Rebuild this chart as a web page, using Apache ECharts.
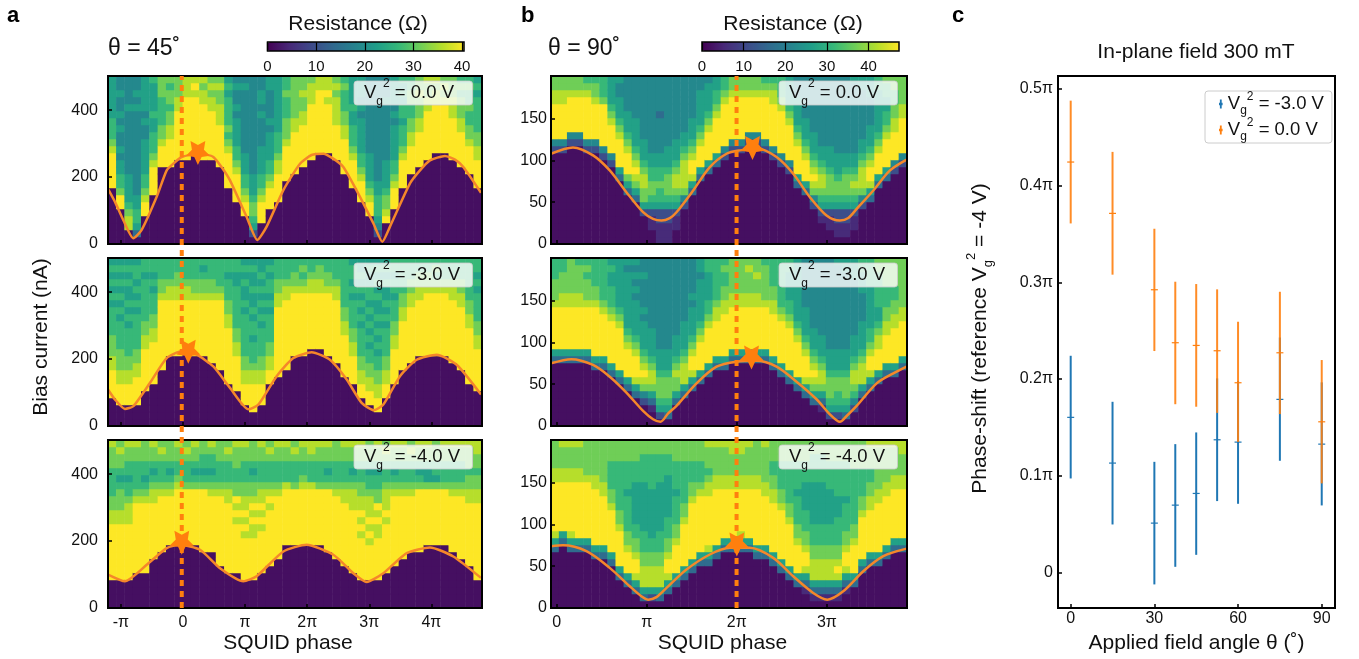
<!DOCTYPE html>
<html><head><meta charset="utf-8">
<style>html,body{margin:0;padding:0;background:#fff}#c{width:1359px;height:659px}</style>
<script src="https://cdn.jsdelivr.net/npm/echarts@6/dist/echarts.min.js"></script>
</head><body><div id="c"></div>
<script>
// Each string is one column of the map, bottom to top; each digit is a colour level 0-9.
const a1Cols=["00000000999998"+"7666555555","00000"+"99"+"7"+"66"+"55454454544544","00"+"88"+"76"+"555544444444454444","03566"+"5544444444444454544","0000"+"99"+"8"+"76"+"655555445455555","0000000"+"9999"+"87"+"66"+"655655556","00000000000"+"999"+"877"+"6666777","00000000000"+"9999"+"88"+"77"+"67767","000000000000"+"9999999"+"88"+"777","000000000000"+"999999999"+"888","0000000000000"+"9999999"+"9898","000000000000"+"99999999"+"8878","000000000000"+"9999999"+"88787","00000000000"+"999999"+"8887787","00000000"+"99999"+"87"+"6"+"76666565","000000"+"9999"+"87"+"66"+"5555454454","0000"+"99"+"8"+"76"+"655544444444454","0"+"25"+"677"+"65"+"5544444444444444","000"+"999"+"87"+"66"+"55554444545544","00000"+"999"+"87"+"66"+"555545444455","000000"+"9999"+"88"+"76"+"6655555555","000000000"+"99999"+"87"+"77"+"666766","0000000000"+"999999"+"88"+"777777","00000000000"+"999999"+"88"+"77877","000000000000"+"99999999"+"8887","0000000000000"+"99999999"+"988","0000000000000"+"9999999"+"8988","000000000000"+"99999"+"8888787","0000000000"+"99999"+"88"+"7766676","00000000"+"9999"+"87"+"66"+"65565555","000000"+"999"+"87"+"66"+"55555454555","0000"+"99"+"87"+"65"+"55544444444444","0"+"2"+"4"+"56"+"66"+"5"+"5444444444444444","000"+"98"+"77"+"65"+"555444444445444","00000"+"999"+"87"+"66"+"555554545555","00000000"+"9999"+"87"+"66"+"65665656","0000000000"+"9999"+"887"+"7667766","00000000000"+"99999"+"88"+"777877","000000000000"+"9999999"+"88"+"778","0000000000000"+"9999999"+"8878","0000000000000"+"9999999"+"8787","000000000000"+"999999"+"888777","00000000000"+"99999"+"88777676","0000000000"+"9999"+"87"+"76676676","00000000"+"9999"+"88"+"7"+"766666565"];
const a2Cols=["0000"+"9999"+"8"+"87"+"7766"+"665656565","000"+"999"+"88"+"777"+"666"+"6565656565","000"+"999"+"88"+"776"+"666"+"5656556565","000"+"9999"+"88"+"77"+"666"+"6656565665","00000"+"999999"+"88"+"77"+"666666566","000000"+"999999"+"88"+"77"+"66656566","00000000"+"9999999999"+"8"+"77"+"666","0000000000"+"99999999"+"88"+"7666","0000000000"+"99999999"+"88"+"7766","00000000000"+"9999999"+"88"+"7666","0000000000"+"99999999"+"8"+"77666","0000000000"+"99999999"+"8"+"77656","000000000"+"999999999"+"8"+"77666","00000000"+"9999999999"+"8"+"76666","000000"+"99999999"+"88"+"77"+"666566","00000"+"99999"+"88"+"77"+"666"+"6665566","000"+"999"+"88"+"77"+"66"+"666656556565","00"+"9999"+"88"+"76"+"66"+"566565565565","000"+"999"+"88"+"77"+"66"+"665656565655","000000"+"99"+"88"+"77"+"666656566565","0000000"+"9999999999"+"88"+"77"+"666","00000000"+"9999999999"+"88"+"7666","0000000000"+"999999999"+"8"+"7766","0000000000"+"999999999"+"8"+"7676","00000000000"+"99999999"+"88"+"766","00000000000"+"99999999"+"88"+"776","0000000000"+"999999999"+"8"+"7766","000000000"+"999999999"+"88"+"7666","0000000"+"999999"+"88"+"77"+"6666666","000000"+"9999"+"88"+"77"+"6666565665","0000"+"99"+"88"+"77"+"66"+"665656565655","000"+"99"+"88"+"77"+"66"+"5656565665565","00"+"99"+"88"+"77"+"66"+"56565655656565","0000"+"99"+"88"+"77"+"66"+"665656556565","000000"+"99999"+"88"+"77"+"666566566","00000000"+"9999999"+"88"+"77"+"66666","000000000"+"99999999"+"88"+"77"+"666","0000000000"+"99999999"+"88"+"7766","0000000000"+"999999999"+"8"+"7766","0000000000"+"999999999"+"8"+"7676","0000000000"+"999999999"+"8"+"7666","000000000"+"999999999"+"88"+"7666","00000000"+"999999999"+"88"+"77"+"666","000000"+"99999999"+"88"+"77"+"666666","00000"+"999999"+"88"+"77"+"666656566"];
const a3Cols=["0000"+"99999999"+"88"+"77"+"66"+"667778","0000"+"99999999"+"88"+"77"+"76"+"567787","0000"+"99999999"+"88"+"87"+"66"+"566778","00000"+"9999999999"+"8"+"7"+"6"+"666778","00000"+"9999999999"+"8"+"7"+"6"+"566777","0000000"+"99999999"+"8"+"8"+"7"+"656778","00000000"+"99999999"+"87"+"666787","000000000"+"9999999"+"87"+"656777","000000000"+"99999999"+"8"+"766778","000000000"+"99999999"+"7"+"666787","000000000"+"99999999"+"7"+"656778","00000000"+"999999999"+"7"+"656677","00000000"+"99999999"+"8"+"7"+"656678","000000"+"9999999999"+"87"+"666777","00000"+"9999999999"+"88"+"7"+"666787","00000"+"9999999"+"8989"+"77"+"667778","0000"+"999999"+"898988"+"77"+"666778","0000"+"999999"+"889898"+"77"+"656777","00000"+"99999"+"989898"+"87"+"666778","000000"+"9999999"+"989"+"87"+"666787","0000000"+"999999999"+"8"+"7"+"666778","000000000"+"99999999"+"8"+"666778","000000000"+"99999999"+"7"+"666787","000000000"+"99999999"+"8"+"766778","000000000"+"99999999"+"8"+"666788","000000000"+"99999999"+"7"+"666778","00000000"+"999999999"+"7"+"656778","0000000"+"999999999"+"8"+"7"+"666777","000000"+"999999999"+"88"+"7"+"666778","00000"+"99999999"+"98"+"88"+"7"+"656778","0000"+"99999"+"989898"+"87"+"7"+"666778","0000"+"99999"+"898988"+"87"+"6"+"656777","0000"+"99999"+"988989"+"77"+"6"+"656778","00000"+"999999"+"9898"+"88"+"7"+"666787","000000"+"9999999999"+"87"+"656778","0000000"+"999999999"+"8"+"7"+"666778","00000000"+"99999999"+"8"+"7"+"666787","00000000"+"999999999"+"7"+"656778","000000000"+"99999999"+"7"+"556778","000000000"+"99999999"+"7"+"566777","000000000"+"99999999"+"7"+"666778","00000000"+"99999999"+"87"+"666778","0000000"+"999999999"+"8"+"7"+"666778","000000"+"999999999"+"88"+"7"+"767778","0000"+"99999999999"+"88"+"7"+"767788"];
const b1Cols=["0000000000000"+"24"+"99999"+"88"+"77","0000000000000"+"24"+"99999"+"88"+"77","00000000000000"+"24"+"99999"+"8"+"77","00000000000000"+"24"+"99999"+"8"+"77","0000000000000"+"24"+"999999"+"8"+"76","0000000000000"+"24"+"99999"+"8"+"776","000000000000"+"24"+"999999"+"7"+"666","00000000000"+"24"+"9999"+"87"+"65555","000000000"+"35"+"9999"+"87"+"65"+"55445","0000000"+"35"+"7"+"999"+"87"+"65"+"5544444","000000"+"35"+"78"+"9"+"87"+"65"+"555444444","0000"+"25"+"778"+"87"+"65"+"55444444444","00112"+"5677"+"665"+"544444444444","11122"+"5667"+"665"+"544444344444","11122"+"5677"+"765"+"554444444444","00112"+"567"+"88"+"765"+"55444444444","00000"+"24"+"788"+"88"+"76"+"5544444444","0000000"+"35"+"899"+"87"+"65"+"55444444","000000000"+"35"+"999"+"87"+"65"+"555544","0000000000"+"35"+"9999"+"87"+"655554","00000000000"+"35"+"99999"+"87"+"6655","000000000000"+"24"+"999999"+"87"+"66","0000000000000"+"24"+"999999"+"87"+"7","0000000000000"+"24"+"999999"+"87"+"7","00000000000000"+"24"+"99999"+"8"+"77","00000000000000"+"24"+"99999"+"8"+"77","0000000000000"+"24"+"999999"+"8"+"76","000000000000"+"24"+"999999"+"88"+"76","00000000000"+"24"+"999999"+"8"+"7"+"666","0000000000"+"24"+"99999"+"87"+"65555","00000000"+"35"+"9999"+"87"+"65"+"555444","0000000"+"35"+"999"+"87"+"65"+"55444444","00000"+"24"+"78"+"9"+"87"+"65"+"5544444444","000"+"12"+"56"+"78"+"87"+"65"+"54444444444","00"+"112"+"567"+"77"+"65"+"554444444444","0"+"1122"+"5677"+"65"+"5544444444444","0"+"1122"+"5677"+"76"+"5544444444444","00"+"112"+"567"+"87"+"65"+"544444444445","00000"+"24"+"78"+"88"+"76"+"55444444455","000000"+"35"+"899"+"87"+"65"+"554444555","00000000"+"35"+"999"+"87"+"65"+"5555566","000000000"+"35"+"9999"+"87"+"66"+"55667","0000000000"+"24"+"9999"+"88"+"77"+"6677","00000000000"+"24"+"99999"+"88"+"7777"];
const b2Cols=["000000000"+"35"+"999999"+"87"+"77666","000000000"+"35"+"999999"+"88"+"77766","000000000"+"35"+"999999"+"88"+"77777","000000000"+"35"+"999999"+"88"+"77776","000000000"+"35"+"999999"+"87"+"77676","00000000"+"35"+"9999999"+"87"+"76666","00000000"+"35"+"999999"+"87"+"666666","0000000"+"35"+"999999"+"87"+"6665565","000000"+"35"+"999999"+"87"+"65555555","00000"+"35"+"9999"+"87"+"65"+"555555545","0000"+"35"+"8999"+"87"+"65"+"5555454545","000"+"24"+"789"+"87"+"65"+"555454444544","00"+"13"+"57"+"88"+"76"+"55"+"554444444444","0"+"2"+"5"+"67"+"77"+"65"+"5"+"54444444444444","0"+"3"+"56"+"77"+"76"+"55"+"54444444444444","000"+"35"+"77"+"87"+"65"+"5544444444444","0000"+"35"+"88"+"87"+"65"+"555444444444","00000"+"35"+"899"+"87"+"65"+"5554544444","000000"+"35"+"9999"+"87"+"65"+"55555455","0000000"+"35"+"99999"+"87"+"66"+"555566","00000000"+"35"+"99999"+"88"+"76"+"66666","00000000"+"35"+"999999"+"88"+"77"+"6676","000000000"+"35"+"999999"+"88"+"77777","000000000"+"35"+"999999"+"88"+"77777","000000000"+"35"+"999999"+"88"+"77787","000000000"+"35"+"999999"+"88"+"77877","000000000"+"35"+"999999"+"87"+"77776","00000000"+"35"+"999999"+"88"+"776666","0000000"+"35"+"999999"+"87"+"6666666","000000"+"35"+"999999"+"87"+"66"+"555566","00000"+"35"+"99999"+"87"+"65"+"55555555","0000"+"35"+"8999"+"87"+"65"+"5554444444","000"+"35"+"789"+"87"+"65"+"554444444444","00"+"13"+"57"+"88"+"76"+"55"+"544444444444","0"+"2"+"56"+"77"+"76"+"55"+"54444444444444","0"+"2"+"56"+"67"+"76"+"55"+"54444444444445","0"+"3"+"56"+"77"+"76"+"55"+"54444444444455","00"+"24"+"67"+"88"+"76"+"55"+"544444444555","0000"+"35"+"88"+"87"+"65"+"555444455566","00000"+"35"+"899"+"87"+"66"+"5555556666","000000"+"35"+"999"+"88"+"76"+"556666677","0000000"+"35"+"9999"+"88"+"77"+"6667777","0000000"+"35"+"99999"+"88"+"77"+"667777","00000000"+"35"+"99999"+"88"+"77"+"77777"];
const b3Cols=["00000000"+"358"+"9999999"+"8"+"8"+"7777","000000000"+"35"+"9999999"+"88"+"7778","00000000"+"358"+"9999999"+"88"+"7778","00000000"+"35"+"99999999"+"88"+"7778","00000000"+"35"+"99999999"+"87"+"7777","0000000"+"35"+"99999999"+"88"+"77777","0000000"+"35"+"9999999"+"88"+"777777","000000"+"35"+"999999"+"87"+"76"+"666777","0000"+"35"+"99999"+"87"+"76"+"666666777","000"+"35"+"999"+"87"+"76"+"666656666777","00"+"35"+"899"+"87"+"76"+"6555555666777","0"+"3"+"5"+"88"+"87"+"76"+"665555555666677","0"+"2"+"5"+"88"+"87"+"76"+"655555556666677","0"+"3"+"5"+"88"+"87"+"76"+"665555555666677","00"+"35"+"899"+"87"+"76"+"6655555566677","000"+"35"+"9999"+"87"+"76"+"66656666777","0000"+"35"+"999999"+"87"+"76"+"66666777","00000"+"35"+"99999999"+"87"+"7"+"666777","000000"+"35"+"99999999"+"87"+"666777","000000"+"358"+"9999999"+"88"+"767778","0000000"+"35"+"99999999"+"88"+"77778","00000000"+"35"+"9999999"+"88"+"77778","00000000"+"35"+"9999999"+"88"+"77788","00000000"+"358"+"999999"+"88"+"77788","00000000"+"35"+"9999999"+"88"+"77778","0000000"+"35"+"99999999"+"88"+"77777","0000000"+"35"+"9999999"+"88"+"777778","000000"+"35"+"9999999"+"88"+"77"+"66777","00000"+"35"+"9999999"+"87"+"76"+"666777","0000"+"35"+"999999"+"87"+"76"+"66666777","000"+"35"+"9999"+"87"+"76"+"66656666777","00"+"13"+"5"+"899"+"87"+"76"+"665555666777","0"+"13"+"5"+"88"+"87"+"76"+"66555555666677","0"+"13"+"5"+"88"+"87"+"76"+"66555555666677","0"+"13"+"5"+"88"+"87"+"76"+"66555556666777","0"+"13"+"5"+"89"+"87"+"76"+"66655566666777","00"+"13"+"5"+"899"+"87"+"76"+"666566666777","000"+"35"+"9999"+"87"+"76"+"66666667777","00000"+"35"+"999999"+"87"+"76"+"6667777","000000"+"35"+"999999"+"88"+"77"+"667778","000000"+"35"+"9999999"+"88"+"77"+"77778","0000000"+"35"+"9999999"+"88"+"777778","00000000"+"35"+"9999999"+"88"+"77778","00000000"+"35"+"9999999"+"88"+"77788"];

// Fitted curves: [phase in units of pi, current in nA]
const a1Curve=[[-1.208,165],[-1.095,126],[-.961,71],[-.8,17],[-.666,42],[-.424,141],[-.263,220],[-.156,240],[-.021,260],[.247,270],[.38,267],[.488,260],[.62,230],[.757,190],[1.025,81],[1.197,12],[1.347,52],[1.616,161],[1.884,240],[2.07,266],[2.26,270],[2.42,255],[2.582,230],[2.85,141],[3.065,62],[3.21,7],[3.333,52],[3.655,181],[3.816,220],[3.977,250],[4.219,263],[4.38,252],[4.514,230],[4.799,153]];
const a2Curve=[[-1.208,109],[-1.095,79],[-.934,51],[-.8,59],[-.531,129],[-.263,203],[-.021,223],[.22,213],[.488,178],[.757,114],[1.052,50],[1.213,64],[1.508,149],[1.777,203],[2.072,220],[2.367,198],[2.636,139],[2.877,69],[3.076,47],[3.226,64],[3.494,149],[3.763,198],[4.085,213],[4.407,183],[4.799,94]];
const a3Curve=[[-1.208,100],[-.934,80],[-.585,129],[-.263,179],[-.048,189],[.274,174],[.596,119],[.972,80],[1.186,95],[1.616,169],[1.991,189],[2.421,159],[2.743,104],[2.958,78],[3.226,104],[3.602,164],[3.977,181],[4.353,154],[4.799,90]];
const b1Curve=[[-.063,108],[.181,115.6],[.404,106],[.589,88],[.774,62],[.959,38],[1.07,30],[1.163,28],[1.256,31],[1.33,38],[1.515,64],[1.7,92],[1.885,108],[2.033,112],[2.237,114],[2.441,104],[2.626,84],[2.811,56],[2.996,34],[3.144,28],[3.237,31],[3.33,42],[3.515,64],[3.7,88],[3.885,101]];
const b2Curve=[[-.063,75],[.163,80],[.404,73],[.589,59],[.774,40],[.959,18],[1.07,8],[1.152,5],[1.237,15],[1.33,24],[1.552,51],[1.774,71],[1.996,77],[2.219,78],[2.441,71],[2.663,53],[2.885,32],[3.033,14],[3.144,5],[3.219,12],[3.33,24],[3.552,51],[3.737,63],[3.885,71]];
const b3Curve=[[-.063,74],[.07,75],[.33,68],[.589,48],[.811,26],[.94,14],[1.015,10],[1.107,13],[1.219,24],[1.441,46],[1.7,64],[1.922,72],[2.144,72],[2.404,60],[2.626,38],[2.848,18],[3.004,10],[3.181,20],[3.404,44],[3.626,62],[3.885,71]];
const aStars=[[.24,272],[.085,222],[-.02,195]];
const bStars=[[2.174,115],[2.163,82],[2.0,76]];
const aLinePhase=-.02, bLinePhase=1.997;

const aPhaseTicks=[-1,0,1,2,3,4], aPhaseLabels=['-π','0','π','2π','3π','4π'];
const bPhaseTicks=[0,1,2,3], bPhaseLabels=['0','π','2π','3π'];
const aCurrentTicks=[0,200,400], bCurrentTicks=[0,50,100,150];
const gateLabels=['0.0','-3.0','-4.0'];

const thetas=[0,15,30,37.5,45,52.5,60,75,90];
const blueMid=[.1604,.1131,.051,.0696,.0817,.1372,.1348,.179,.1327];
const blueLow=[.0972,.0496,-.0124,.0058,.0182,.0738,.071,.1155,.0693];
const blueHigh=[.2241,.1765,.1144,.1327,.1448,.2007,.198,.243,.1966];
const orangeMid=[.4245,.3714,.2924,.2376,.2348,.2293,.1962,.2272,.1558];
const orangeLow=[.361,.308,.229,.174,.1714,.165,.135,.1638,.0921];
const orangeHigh=[.488,.435,.3555,.3007,.2983,.2928,.2593,.2903,.2197];
const cThetaTicks=[0,30,60,90];
const cPhaseTicks=[0,.1,.2,.3,.4,.5];
const barTicksA=[0,10,20,30,40], barTicksB=[0,10,20,30,40];
const levelFractions=[.04,.12,.24,.35,.47,.57,.67,.78,.89,1];

const VIRIDIS=['#440154','#482878','#3e4989','#31688e','#26828e','#1f9e89','#35b779','#6ece58','#b5de2b','#fde725'];
const FONT='"Liberation Sans",Arial,sans-serif';
const ORANGE='#ff7f0e', BLUE='#1f77b4', INK='#111';
const A_MAX=40.4, B_MAX=47.3;
const ax={left:108,width:374,xmin:-1.208,xmax:4.815,ymax:502,vmax:A_MAX,ticksX:aPhaseTicks,labelsX:aPhaseLabels,ticksY:aCurrentTicks,yMargin:10,namePad:14};
const bx={left:551,width:356,xmin:-.063,xmax:3.889,ymax:201,vmax:B_MAX,ticksX:bPhaseTicks,labelsX:bPhaseLabels,ticksY:bCurrentTicks,yMargin:4,namePad:13};
const tops=[76,258,440], H=168;

const grid=[],xAxis=[],yAxis=[],series=[],graphic=[];
const hmA=[],hmB=[];
function gateText(g){return `{v|V}{s|g}{u|2}{t| = ${g} V}`;}
function richFor(lh){return {v:{fontSize:18.5,fontFamily:FONT,lineHeight:lh,fill:INK,color:INK},
  s:{fontSize:12,fontFamily:FONT,verticalAlign:'bottom',fill:INK,color:INK,lineHeight:lh},
  u:{fontSize:12,fontFamily:FONT,verticalAlign:'top',fill:INK,color:INK,lineHeight:lh},
  t:{fontSize:18.5,fontFamily:FONT,fill:INK,color:INK,lineHeight:lh}};}
function cats(n){const r=[];for(let i=0;i<n;i++)r.push(String(i));return r;}
function addPanel(cfg,row,cols,curve,star,boxLeft){
  const gi=grid.length, top=tops[row], last=row===2;
  grid.push({left:cfg.left,top,width:cfg.width,height:H,outerBoundsMode:'none'});
  const xc=xAxis.length;
  xAxis.push({type:'category',gridIndex:gi,show:false,data:cats(cols.length)});
  xAxis.push({type:'value',gridIndex:gi,min:cfg.xmin,max:cfg.xmax,position:'bottom',z:6,splitLine:{show:false},
    axisLine:{show:false,onZero:false},
    axisTick:{show:true,inside:true,length:4,customValues:cfg.ticksX,lineStyle:{color:'#000',width:1.5}},
    axisLabel:{show:last,customValues:cfg.ticksX,margin:7,fontSize:16,fontFamily:FONT,color:INK,
      formatter:v=>cfg.labelsX[cfg.ticksX.indexOf(v)]},
    name:last?'SQUID phase':'',nameLocation:'middle',nameGap:25,nameMoveOverlap:false,nameTextStyle:{fontSize:21,fontFamily:FONT,color:INK,padding:[0,cfg.namePad,0,0]}});
  const yc=yAxis.length;
  yAxis.push({type:'category',gridIndex:gi,show:false,data:cats(24)});
  yAxis.push({type:'value',gridIndex:gi,position:'left',min:0,max:cfg.ymax,z:6,splitLine:{show:false},axisLine:{show:false,onZero:false},
    axisTick:{show:true,inside:true,length:4,customValues:cfg.ticksY,lineStyle:{color:'#000',width:1.5}},
    axisLabel:{customValues:cfg.ticksY,margin:cfg.yMargin,fontSize:16,fontFamily:FONT,color:INK},
    name:(cfg===ax&&row===1)?'Bias current (nA)':'',nameLocation:'middle',nameGap:56,nameTextStyle:{fontSize:21,fontFamily:FONT,color:INK,padding:[0,0,0,10]}});
  const data=[];
  cols.forEach((s,x)=>{for(let y=0;y<s.length;y++){data.push([x,y,levelFractions[+s[y]]*cfg.vmax]);}});
  (cfg===ax?hmA:hmB).push(series.length);
  series.push({type:'heatmap',xAxisIndex:xc,yAxisIndex:yc,data,silent:true,progressive:0,animation:false,emphasis:{disabled:true},z:2});
  series.push({type:'line',xAxisIndex:xc+1,yAxisIndex:yc+1,data:curve,showSymbol:false,smooth:cfg===bx?0.3:0.2,silent:true,animation:false,z:3,
    lineStyle:{color:'#f5872a',width:2.5,join:'round'}});
  graphic.push({type:'rect',z:5,silent:true,shape:{x:cfg.left,y:top,width:cfg.width,height:H},style:{fill:'none',stroke:'#000',lineWidth:2}});
  graphic.push({type:'rect',z:8,silent:true,shape:{x:boxLeft,y:top+5,width:118.5,height:24,r:3},style:{fill:'rgba(255,255,255,0.8)',stroke:'rgba(204,204,204,0.8)',lineWidth:1}});
  graphic.push({type:'text',z:9,silent:true,x:boxLeft+10,y:top+1.5,style:{text:gateText(gateLabels[row]),rich:richFor(30),fontFamily:FONT}});
  return {xc,yc,star};
}
const aCols=[a1Cols,a2Cols,a3Cols],bCols=[b1Cols,b2Cols,b3Cols];
const aCurves=[a1Curve,a2Curve,a3Curve],bCurves=[b1Curve,b2Curve,b3Curve];
const panels=[];
for(let r=0;r<3;r++)panels.push(addPanel(ax,r,aCols[r],aCurves[r],aStars[r],354));
for(let r=0;r<3;r++)panels.push(addPanel(bx,r,bCols[r],bCurves[r],bStars[r],779));

// dotted guide lines run through all three panels of a column
[[ax,aLinePhase],[bx,bLinePhase]].forEach(([cfg,ph])=>{
  const gi=grid.length;
  grid.push({left:cfg.left,top:tops[0],width:cfg.width,height:532,outerBoundsMode:'none'});
  const xi=xAxis.length;xAxis.push({type:'value',gridIndex:gi,show:false,min:cfg.xmin,max:cfg.xmax});
  const yi=yAxis.length;yAxis.push({type:'value',gridIndex:gi,show:false,min:0,max:1});
  series.push({type:'line',xAxisIndex:xi,yAxisIndex:yi,data:[[ph,0],[ph,1]],showSymbol:false,silent:true,animation:false,z:6,clip:false,
    lineStyle:{color:ORANGE,width:4,type:[6,5],cap:'butt'}});
});
const STAR='path://M50 100L35.3 70.2L2.4 65.5L26.2 42.3L20.6 9.5L50 25L79.4 9.5L73.8 42.3L97.6 65.5L64.7 70.2Z';
panels.forEach(p=>{
  series.push({type:'scatter',xAxisIndex:p.xc+1,yAxisIndex:p.yc+1,data:[p.star],symbol:STAR,symbolSize:24,silent:true,animation:false,z:7,itemStyle:{color:ORANGE,opacity:1}});
});

// colour bars
function addBar(left,width,max,ticks){
  const gi=grid.length;
  grid.push({left,top:42,width,height:9,outerBoundsMode:'none'});
  xAxis.push({type:'value',gridIndex:gi,min:0,max,z:6,splitLine:{show:false},axisLine:{show:false,onZero:false},
    axisTick:{show:true,inside:true,length:9,customValues:ticks,lineStyle:{color:'#000',width:1.2}},
    axisLabel:{customValues:ticks,margin:8,fontSize:15,fontFamily:FONT,color:INK}});
  yAxis.push({type:'value',gridIndex:gi,show:false,min:0,max:1});
  graphic.push({type:'rect',z:5,silent:true,shape:{x:left,y:42,width,height:9},style:{fill:'none',stroke:'#000',lineWidth:1.5}});
}
addBar(267.5,196.5,A_MAX,barTicksA);
addBar(702,197,B_MAX,barTicksB);

// panel c
const gc=grid.length;
grid.push({left:1058,top:76,width:277,height:532,outerBoundsMode:'none'});
xAxis.push({type:'value',gridIndex:gc,min:-4.55,max:94.76,z:6,splitLine:{show:false},axisLine:{show:false,onZero:false},
  axisTick:{inside:true,length:4,customValues:cThetaTicks,lineStyle:{color:'#000',width:1.5}},
  axisLabel:{customValues:cThetaTicks,margin:3,fontSize:16,fontFamily:FONT,color:INK},
  name:'Applied field angle θ (˚)',nameLocation:'middle',nameGap:25,nameMoveOverlap:false,nameTextStyle:{fontSize:21,fontFamily:FONT,color:INK}});
yAxis.push({type:'value',gridIndex:gc,min:-.0368,max:.5135,z:6,splitLine:{show:false},axisLine:{show:false,onZero:false},
  axisTick:{inside:true,length:4,customValues:cPhaseTicks,lineStyle:{color:'#000',width:1.5}},
  axisLabel:{customValues:cPhaseTicks,margin:5,fontSize:16,fontFamily:FONT,color:INK,formatter:v=>v===0?'0':v+'π'},
  name:'{t|Phase-shift (reference V}{s|g}{u|2}{t| = -4 V)}',nameLocation:'middle',nameGap:63,
  nameTextStyle:{fontFamily:FONT,padding:[0,0,0,7],rich:{t:{fontSize:21,fontFamily:FONT,color:INK,lineHeight:30},s:{fontSize:13,fontFamily:FONT,color:INK,verticalAlign:'bottom',lineHeight:30},u:{fontSize:13,fontFamily:FONT,color:INK,verticalAlign:'top',lineHeight:30}}}});
graphic.push({type:'rect',z:5,silent:true,shape:{x:1058,y:76,width:277,height:532},style:{fill:'none',stroke:'#000',lineWidth:2}});
function errSeries(name,color,mid,low,high,opacity,z){
  return {type:'custom',name,xAxisIndex:xAxis.length-1,yAxisIndex:yAxis.length-1,silent:true,animation:false,z,
    itemStyle:{color},
    encode:{x:0,y:1},
    data:thetas.map((t,i)=>[t,mid[i],low[i],high[i]]),
    renderItem(p,api){
      const x=api.value(0),m=api.coord([x,api.value(1)]),l=api.coord([x,api.value(2)]),h=api.coord([x,api.value(3)]);
      return {type:'group',children:[
        {type:'line',shape:{x1:l[0],y1:l[1],x2:h[0],y2:h[1]},style:{stroke:color,lineWidth:2,opacity}},
        {type:'line',shape:{x1:m[0]-3.5,y1:m[1],x2:m[0]+3.5,y2:m[1]},style:{stroke:color,lineWidth:1.2,opacity:1}}
      ]};
    }};
}
series.push(errSeries('-3.0',BLUE,blueMid,blueLow,blueHigh,1,3));
series.push(errSeries('0.0',ORANGE,orangeMid,orangeLow,orangeHigh,.9,4));
const ICON='path://M4 0H6V3.5H7V6.5H6V10H4V6.5H3V3.5H4Z';

const tx=(text,x,y,size,extra)=>({type:'text',silent:true,x,y,style:Object.assign({text,fontSize:size,fontFamily:FONT,fill:INK,textVerticalAlign:'middle'},extra||{})});
graphic.push(tx('a',7,16,22,{fontWeight:'bold',fill:'#000'}));
graphic.push(tx('b',521,16,22,{fontWeight:'bold',fill:'#000'}));
graphic.push(tx('c',952,16,22,{fontWeight:'bold',fill:'#000'}));
graphic.push(tx('θ = 45˚',108,49,23));
graphic.push(tx('θ = 90˚',548,49,23));
graphic.push(tx('Resistance (Ω)',358,24,21,{textAlign:'center'}));
graphic.push(tx('Resistance (Ω)',793,24,21,{textAlign:'center'}));
graphic.push(tx('In-plane field 300 mT',1196,52,21,{textAlign:'center'}));

const chart=echarts.init(document.getElementById('c'),null,{renderer:'canvas'});
const vm=(left,max,idx)=>({type:'continuous',show:true,seriesIndex:idx,dimension:2,min:0,max,orient:'horizontal',left,top:42,itemWidth:9,itemHeight:max===A_MAX?196.5:197,padding:0,text:null,showLabel:false,calculable:false,hoverLink:false,realtime:false,inRange:{color:VIRIDIS},z:1,textStyle:{fontSize:0}});
chart.setOption({animation:false,backgroundColor:'#fff',textStyle:{fontFamily:FONT},
  grid,xAxis,yAxis,series,graphic:{elements:graphic},
  visualMap:[vm(267.5,A_MAX,hmA),vm(702,B_MAX,hmB)],
  legend:{show:true,left:1205,top:91,orient:'vertical',padding:[0,8,0,14],itemGap:0,itemWidth:4,itemHeight:9,
    backgroundColor:'rgba(255,255,255,.8)',borderColor:'#ccc',borderWidth:1,borderRadius:3,selectedMode:false,icon:ICON,
    data:['-3.0','0.0'],formatter:n=>gateText(n),
    textStyle:{fontFamily:FONT,rich:richFor(26)}}
});
</script></body></html>
